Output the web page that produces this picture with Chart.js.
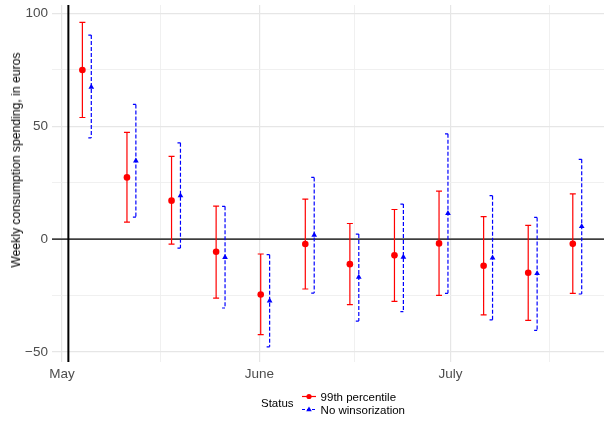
<!DOCTYPE html>
<html>
<head>
<meta charset="utf-8">
<script src="https://cdn.jsdelivr.net/npm/chart.js@4"></script>
<style>
    html, body { margin: 0; padding: 0; background: #fff; }
    #wrap { position: relative; width: 608px; height: 423px; }
    #ytitle {
        position: absolute; left: 16px; top: 160px; white-space: nowrap;
        transform: translate(-50%, -50%) rotate(-90deg);
        font-family: "Liberation Sans", Arial, sans-serif; font-size: 12.2px; color: #000;
    }
    #legend {
        position: absolute; left: 261px; top: 390px;
        display: flex; align-items: center;
        font-family: "Liberation Sans", Arial, sans-serif; font-size: 11.5px; color: #000;
    }
    #legend .title { margin-right: 8px; }
    #legend .item { display: flex; align-items: center; height: 13px; }
    #legend svg { margin-right: 5px; }
</style>
</head>
<body>
<div id="wrap">
    <canvas id="chart" width="608" height="423"></canvas>
    <div id="ytitle"></div>
    <div id="legend"></div>
</div>
<script>
// week positions, in days after May 1
const weekDays = [3.9, 10.9, 17.9, 24.9, 31.9, 38.9, 45.9, 52.9, 59.9, 66.9, 73.9, 80.9];

const seriesNames = ["99th percentile", "No winsorization"];
const yTitle = "Weekly consumption spending, in euros";
const legendTitle = "Status";

const winsMean = [74.8, 27.3, 17.0, -5.6, -24.5, -2.2, -11.1, -7.2, -1.9, -11.8, -14.9, -2.1];
const winsLow  = [53.8, 7.5, -2.2, -26.1, -42.3, -22.1, -29.0, -27.6, -24.9, -33.5, -36.0, -24.0];
const winsHigh = [95.9, 47.2, 36.6, 14.6, -6.6, 17.7, 6.9, 13.1, 21.2, 9.9, 6.1, 20.0];

const rawMean = [67.3, 34.6, 19.2, -8.1, -27.3, 1.8, -16.8, -8.0, 11.4, -8.3, -15.2, 5.6];
const rawLow  = [44.8, 9.7, -4.0, -30.5, -47.7, -23.9, -36.3, -32.1, -24.0, -35.8, -40.4, -24.3];
const rawHigh = [90.3, 59.6, 42.6, 14.5, -6.9, 27.3, 2.2, 15.5, 46.6, 19.2, 9.6, 35.3];

const xTickDays = [0, 31, 61];
const xTickLabels = ["May", "June", "July"];
const xMinorDays = [15.5, 46, 76.5];
const yTicks = [-50, 0, 50, 100];
const yMinorTicks = [-25, 25, 75];
const vlineDay = 1;

const dodge = 0.7;
const cap = 0.47;

function whiskers(lo, hi, shift, left, right) {
    const pts = [];
    weekDays.forEach((d, i) => {
        const x = d + shift;
        pts.push({ x: x - left, y: hi[i] }, { x: x + right, y: hi[i] }, { x: x, y: null });
        pts.push({ x: x, y: hi[i] }, { x: x, y: lo[i] }, { x: x, y: null });
        pts.push({ x: x - left, y: lo[i] }, { x: x + right, y: lo[i] }, { x: x, y: null });
    });
    return pts;
}

function points(mean, shift) {
    return weekDays.map((d, i) => ({ x: d + shift, y: mean[i] }));
}

const lineBase = { type: "line", pointRadius: 0, spanGaps: false, fill: false, tension: 0 };

new Chart(document.getElementById("chart"), {
    type: "line",
    data: {
        datasets: [
            { ...lineBase, data: [{ x: -5, y: 0 }, { x: 100, y: 0 }], borderColor: "#000", borderWidth: 1.2, order: 5 },
            { ...lineBase, data: [{ x: vlineDay, y: -80 }, { x: vlineDay, y: 130 }], borderColor: "#000", borderWidth: 2, order: 5 },
            { ...lineBase, label: seriesNames[0], data: whiskers(winsLow, winsHigh, -dodge, cap, cap), borderColor: "#ff0000", borderWidth: 1.2, order: 3 },
            { ...lineBase, label: seriesNames[1], data: whiskers(rawLow, rawHigh, dodge, cap, 0), borderColor: "#0000ff", borderWidth: 1.2, borderDash: [4, 2], order: 3 },
            { type: "scatter", data: points(winsMean, -dodge), pointStyle: "circle", pointRadius: 3.3, backgroundColor: "#ff0000", borderColor: "#ff0000", borderWidth: 0, order: 1 },
            { type: "scatter", data: points(rawMean, dodge), pointStyle: "triangle", pointRadius: 3.3, backgroundColor: "#0000ff", borderColor: "#0000ff", borderWidth: 0, order: 1 }
        ]
    },
    options: {
        responsive: false,
        animation: false,
        layout: { padding: 0 },
        plugins: { legend: { display: false }, tooltip: { enabled: false } },
        scales: {
            x: {
                type: "linear",
                min: -1.57,
                max: 85.1,
                afterBuildTicks: (scale) => {
                    scale.ticks = [...xTickDays, ...xMinorDays].sort((a, b) => a - b).map((v) => ({ value: v }));
                },
                afterFit: (scale) => {
                    scale.height = 61;
                    scale.paddingLeft = 0;
                    scale.paddingRight = 0;
                },
                border: { display: false },
                grid: {
                    drawTicks: false,
                    color: (ctx) => (xTickDays.includes(ctx.tick.value) ? "#e6e6e6" : "#eeeeee"),
                    lineWidth: (ctx) => (xTickDays.includes(ctx.tick.value) ? 1.2 : 0.9)
                },
                ticks: {
                    padding: 4,
                    autoSkip: false,
                    maxRotation: 0,
                    color: "#4d4d4d",
                    font: { family: "Liberation Sans", size: 13.5 },
                    callback: (v) => {
                        const i = xTickDays.indexOf(v);
                        return i >= 0 ? xTickLabels[i] : "";
                    }
                }
            },
            y: {
                min: -54.4,
                max: 103.6,
                afterBuildTicks: (scale) => {
                    scale.ticks = [...yTicks, ...yMinorTicks].sort((a, b) => a - b).map((v) => ({ value: v }));
                },
                afterFit: (scale) => {
                    scale.width = 52;
                    scale.paddingTop = 5;
                    scale.paddingBottom = 0;
                },
                border: { display: false },
                grid: {
                    drawTicks: false,
                    color: (ctx) => (yTicks.includes(ctx.tick.value) ? "#e6e6e6" : "#eeeeee"),
                    lineWidth: (ctx) => (yTicks.includes(ctx.tick.value) ? 1.2 : 0.9)
                },
                ticks: {
                    padding: 4,
                    color: "#4d4d4d",
                    font: { family: "Liberation Sans", size: 13.5 },
                    callback: (v) => (yTicks.includes(v) ? (v < 0 ? "\u2212" + Math.abs(v) : String(v)) : "")
                }
            }
        }
    }
});

document.getElementById("ytitle").textContent = yTitle;

// legend below the plot
const legendColors = ["#ff0000", "#0000ff"];
const legend = document.getElementById("legend");
legend.innerHTML =
    `<span class="title">${legendTitle}</span><div>` +
    seriesNames
        .map((name, i) => {
            const marker = i === 0
                ? `<circle cx="7" cy="6.5" r="2.6" fill="${legendColors[i]}"/>`
                : `<polygon points="7,3.6 9.8,8.3 4.2,8.3" fill="${legendColors[i]}"/>`;
            const dash = i === 1 ? ` stroke-dasharray="3,2"` : "";
            return `<div class="item"><svg width="14" height="13"><line x1="0" y1="6.5" x2="14" y2="6.5" stroke="${legendColors[i]}" stroke-width="1.2"${dash}/>${marker}</svg>${name}</div>`;
        })
        .join("") +
    `</div>`;
</script>
</body>
</html>
